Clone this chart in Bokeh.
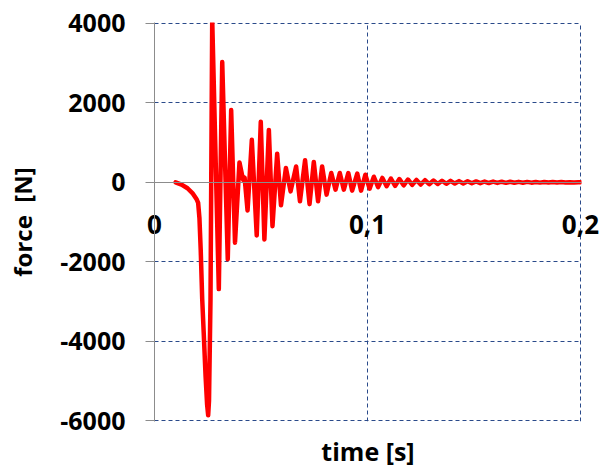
from bokeh.plotting import figure
from bokeh.models import Range1d, LinearAxis, FixedTicker, ColumnDataSource
from bokeh.embed import file_html
from bokeh.resources import INLINE

# ---- data ----
time_s = [
    0.0099, 0.0127, 0.0155, 0.0178, 0.0197, 0.0205, 0.0211, 0.0217, 0.0224, 0.0231,
    0.0240, 0.0247, 0.0252, 0.0256, 0.0263, 0.0271, 0.0302, 0.0318, 0.0344, 0.0360,
    0.0378, 0.0399, 0.0416, 0.0423, 0.0437, 0.0457, 0.0480, 0.0499, 0.0516, 0.0537,
    0.0554, 0.0576, 0.0594, 0.0617, 0.0639, 0.0665, 0.0683, 0.0707, 0.0728, 0.0748,
    0.0768, 0.0787, 0.0808, 0.0830, 0.0850, 0.0870, 0.0889, 0.0910, 0.0928, 0.0952,
    0.0970, 0.0990, 0.1010, 0.1030, 0.1050, 0.1070, 0.1090, 0.1110, 0.1130, 0.1150,
    0.1170, 0.1190, 0.1210, 0.1230, 0.1250, 0.1270, 0.1290, 0.1310, 0.1330, 0.1350,
    0.1370, 0.1390, 0.1410, 0.1430, 0.1450, 0.1470, 0.1490, 0.1510, 0.1530, 0.1550,
    0.1570, 0.1590, 0.1610, 0.1630, 0.1650, 0.1670, 0.1690, 0.1710, 0.1730, 0.1750,
    0.1770, 0.1790, 0.1810, 0.1830, 0.1850, 0.1870, 0.1890, 0.1910, 0.1930, 0.1950,
    0.1970, 0.1990, 0.2000,
]
force_N = [
    0, -60, -150, -270, -420, -520, -900, -1700, -2940, -3780,
    -4900, -5600, -5870, -5500, -2940, 4100, -2690, 3030, -1940, 1820,
    -1520, 500, 60, 120, -710, 1070, -1340, 1526, -1440, 1320,
    -1105, 720, -580, 360, -228, 400, -480, 555, -550, 510,
    -478, 400, -311, 233, -185, 233, -185, 233, -210, 220,
    -210, 190, -160, 140, -120, 110, -100, 95, -88, 82,
    -76, 70, -65, 60, -56, 52, -48, 45, -42, 40,
    -37, 35, -32, 30, -28, 26, -24, 22, -21, 20,
    -18, 17, -16, 15, -14, 13, -12, 11, -10, 10,
    -9, 8, -8, 7, -7, 6, -6, 5, -5, 4,
    -4, 3, 0,
]

x_ticks = [0.0, 0.1, 0.2]
x_tick_labels = ["0", "0,1", "0,2"]
y_ticks = [-6000, -4000, -2000, 0, 2000, 4000]
y_tick_labels = ["-6000", "-4000", "-2000", "0", "2000", "4000"]
x_grid = [0.1, 0.2]
y_grid = [-6000, -4000, -2000, 2000, 4000]

FONT = "Open Sans"
AXIS_GRAY = "#8C8C8C"
GRID_BLUE = "#2A4A8A"

p = figure(width=602, height=470,
           x_range=Range1d(0, 0.2005), y_range=Range1d(-6025, 4025),
           output_backend="svg", toolbar_location=None,
           min_border_left=154, min_border_right=21,
           min_border_top=22, min_border_bottom=47)
p.outline_line_color = None
p.background_fill_color = "white"
p.border_fill_color = "white"

# grid
p.xgrid.ticker = FixedTicker(ticks=x_grid)
p.ygrid.ticker = FixedTicker(ticks=y_grid)
for g in (p.xgrid, p.ygrid):
    g.grid_line_color = GRID_BLUE
    g.grid_line_width = 1
    g.grid_line_dash = "4 3"

# y axis
ya = p.yaxis[0]
ya.ticker = FixedTicker(ticks=y_ticks)
ya.major_label_overrides = dict(zip(y_ticks, y_tick_labels))
ya.axis_line_color = AXIS_GRAY
ya.major_tick_line_color = AXIS_GRAY
ya.major_tick_out = 9
ya.major_tick_in = 0
ya.minor_tick_line_color = None
ya.major_label_text_font = FONT
ya.major_label_text_font_style = "bold"
ya.major_label_text_font_size = "25px"
ya.major_label_text_color = "black"
ya.major_label_standoff = 20
ya.axis_label = "force \u00a0[N]"
ya.axis_label_text_font = FONT
ya.axis_label_text_font_style = "bold"
ya.axis_label_text_font_size = "24px"
ya.axis_label_text_color = "black"
ya.axis_label_standoff = 18

# bottom axis: time tick labels, pulled up to sit under the zero line
xa = p.xaxis[0]
xa.ticker = FixedTicker(ticks=x_ticks)
xa.major_label_overrides = dict(zip(x_ticks, x_tick_labels))
xa.axis_line_color = None
xa.major_tick_line_color = None
xa.minor_tick_line_color = None
xa.major_tick_out = 0
xa.major_tick_in = 0
xa.major_label_text_font = FONT
xa.major_label_text_font_style = "bold"
xa.major_label_text_font_size = "26px"
xa.major_label_text_color = "black"
xa.major_label_standoff = -207

# second bottom axis: only the title
xt = LinearAxis(ticker=FixedTicker(ticks=[]))
xt.axis_line_color = None
xt.major_tick_line_color = None
xt.minor_tick_line_color = None
xt.axis_label = "time [s]"
xt.axis_label_text_font = FONT
xt.axis_label_text_font_style = "bold"
xt.axis_label_text_font_size = "25px"
xt.axis_label_text_color = "black"
xt.axis_label_standoff = 12
p.add_layout(xt, "below")

# axis line crossing at force = 0
x0 = LinearAxis(fixed_location=0, ticker=FixedTicker(ticks=[]))
x0.axis_line_color = AXIS_GRAY
x0.major_tick_line_color = None
x0.minor_tick_line_color = None
p.add_layout(x0, "below")

src = ColumnDataSource(data=dict(t=time_s, f=force_N))
p.line("t", "f", source=src, line_color="#FF0000", line_width=4.5,
       line_join="round", line_cap="round")

open("out.html", "w").write(file_html(p, INLINE))
